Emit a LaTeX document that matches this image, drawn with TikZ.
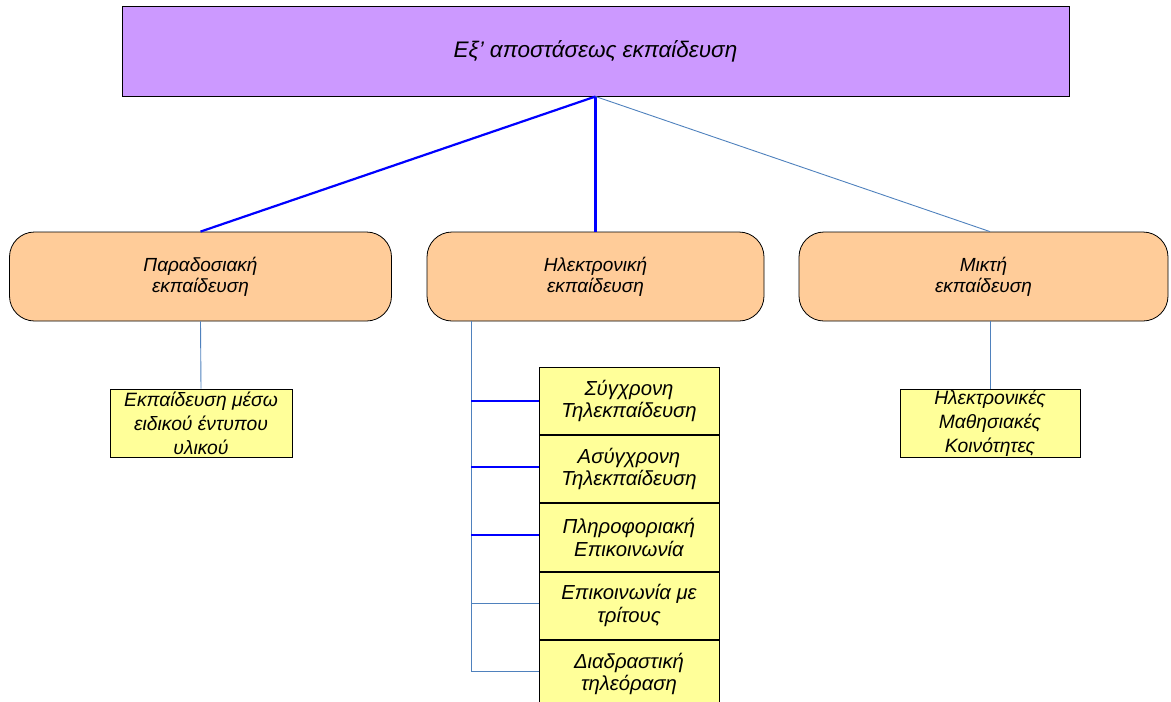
\documentclass[tikz,border=0pt]{standalone}
\usepackage{fontspec}
\setmainfont{Liberation Sans}
\definecolor{purp}{HTML}{CC99FF}
\definecolor{peach}{HTML}{FFCC99}
\definecolor{lyel}{HTML}{FFFF99}
\definecolor{thinb}{HTML}{4F81BD}
\begin{document}
\begin{tikzpicture}[x=1pt,y=-1pt,
  txt/.style={font=\fontsize{19}{21}\selectfont\itshape, align=center, text=black},
  topbox/.style={txt, font=\fontsize{22.5}{26}\selectfont\itshape, draw=black, line width=1pt, fill=purp, minimum width=947pt, minimum height=90pt, inner sep=0pt},
  midbox/.style={txt, draw=black, line width=0.8pt, fill=peach, rounded corners=25pt, minimum height=89pt, inner sep=0pt},
  leafbox/.style={txt, draw=black, line width=0.8pt, fill=lyel, inner sep=0pt},
  stackbox/.style={leafbox, font=\fontsize{20.3}{22.5}\selectfont\itshape, minimum width=180pt, minimum height=67.5pt},
  sidebox/.style={leafbox, font=\fontsize{19.3}{24}\selectfont\itshape, minimum height=68pt},
  thick blue/.style={draw=blue, line width=2.2pt},
  thin blue/.style={draw=thinb, line width=0.9pt}]
\useasboundingbox (0,0) rectangle (1171,702);
\node[topbox] (top) at (595.5,51) {Εξ’ αποστάσεως εκπαίδευση};
\node[midbox, minimum width=382pt] (trad) at (200.5,276.5) {Παραδοσιακή\\εκπαίδευση};
\node[midbox, minimum width=337pt] (elec) at (595.5,276.5) {Ηλεκτρονική\\εκπαίδευση};
\node[midbox, minimum width=369pt] (mix) at (983.5,276.5) {Μικτή\\εκπαίδευση};
\node[sidebox, minimum width=182pt] (l1) at (201,423) {Εκπαίδευση μέσω\\ειδικού έντυπου\\υλικού};
\node[sidebox, minimum width=180pt] (r1) at (990,423) {Ηλεκτρονικές\\Μαθησιακές\\Κοινότητες};
\node[stackbox] (e1) at (629,400.75) {Σύγχρονη\\Τηλεκπαίδευση};
\node[stackbox, anchor=north] (e2) at (e1.south) {Ασύγχρονη\\Τηλεκπαίδευση};
\node[stackbox, anchor=north] (e3) at (e2.south) {Πληροφοριακή\\Επικοινωνία};
\node[stackbox, anchor=north] (e4) at (e3.south) {Επικοινωνία με\\τρίτους};
\node[stackbox, anchor=north] (e5) at (e4.south) {Διαδραστική\\τηλεόραση};
% top connectors
\draw[thick blue] (top.south) -- (trad.north);
\draw[thick blue] (top.south) -- (elec.north);
\draw[thin blue] (top.south) -- (mix.north -| r1.north);
% left and right
\draw[thin blue] (trad.south) -- (l1.north);
\draw[thin blue] (mix.south -| r1.north) -- (r1.north);
% middle spine
\coordinate (sp) at (471,321);
\coordinate (spb) at (471,671);
\draw[thin blue] (sp) -- (spb);
\draw[thick blue] (471,401) -- (e1.west |- 0,401);
\draw[thick blue] (471,467) -- (e2.west |- 0,467);
\draw[thick blue] (471,535) -- (e3.west |- 0,535);
\draw[thin blue] (471,603) -- (e4.west |- 0,603);
\draw[thin blue] (spb) -- (e5.west |- spb);
\end{tikzpicture}
\end{document}
